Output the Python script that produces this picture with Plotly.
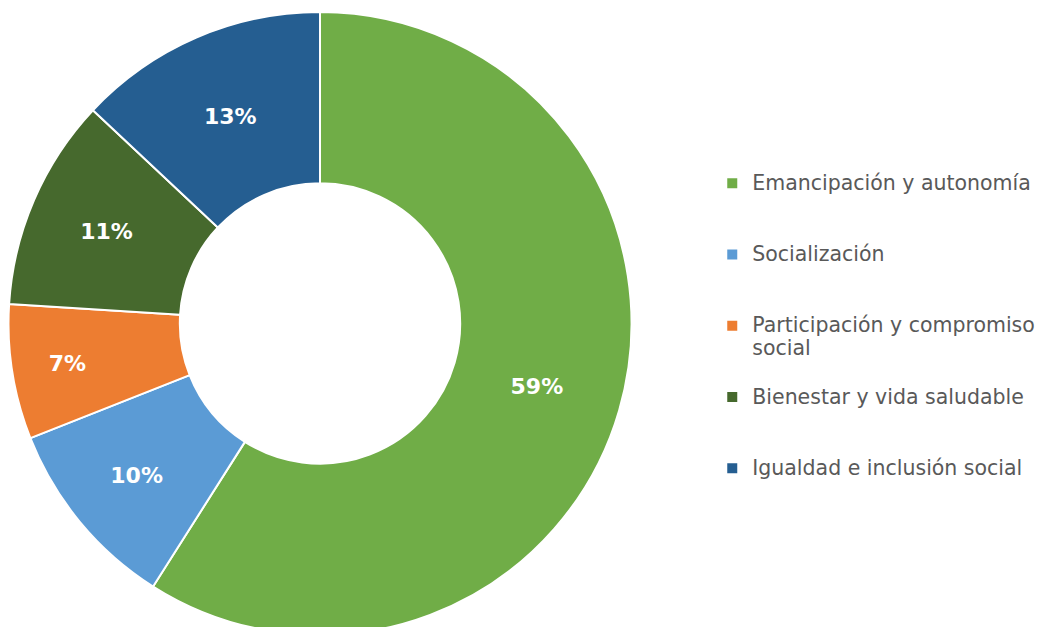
import plotly.graph_objects as go

labels = [
    "Emancipación y autonomía",
    "Socialización",
    "Participación y compromiso<br>social",
    "Bienestar y vida saludable",
    "Igualdad e inclusión social",
]
values = [59, 10, 7, 11, 13]
colors = ["#70AD47", "#5B9BD5", "#ED7D31", "#46692D", "#255E91"]

# legend rows: bigger text on a smaller line pitch, padded to three lines each
legend_text = []
for lab in labels:
    lines = lab.split("<br>")
    body = "<br>".join(f"<span style='font-size:20.5px'>{ln}</span>" for ln in lines)
    legend_text.append(body + "<br> " * (3 - len(lines)))

W, H = 1048, 627
top = 4
radius = (H - top) / 2
cx = 312

fig = go.Figure(
    go.Pie(
        labels=legend_text,
        values=values,
        hole=0.45,
        sort=False,
        direction="clockwise",
        rotation=0,
        marker=dict(colors=colors, line=dict(color="white", width=2)),
        texttemplate="%{value}%",
        textposition="inside",
        insidetextorientation="horizontal",
        textfont=dict(family="DejaVu Sans", size=22, color="white", weight="bold"),
        hovertemplate="%{percent}<extra></extra>",
        domain=dict(x=[(cx - radius) / W, (cx + radius) / W], y=[0, 1]),
    )
)

fig.update_layout(
    width=W,
    height=H,
    margin=dict(l=0, r=0, t=top, b=0),
    paper_bgcolor="white",
    plot_bgcolor="white",
    font=dict(family="DejaVu Sans", color="#595959"),
    legend=dict(
        x=0.672,
        y=0.754,
        xanchor="left",
        yanchor="top",
        valign="top",
        font=dict(family="DejaVu Sans", size=17.5, color="#595959"),
        itemclick=False,
    ),
)

fig.write_html("out.html")
